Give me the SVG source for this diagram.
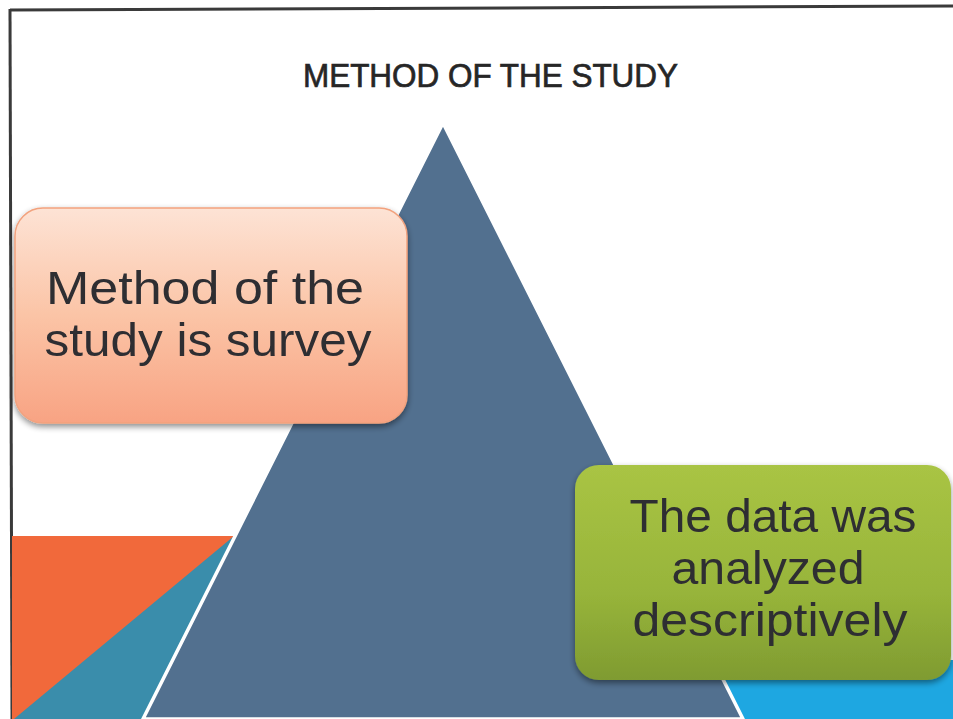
<svg xmlns="http://www.w3.org/2000/svg" width="953" height="719" viewBox="0 0 953 719">
  <defs>
    <linearGradient id="pinkGrad" x1="0" y1="0" x2="0" y2="1">
      <stop offset="0" stop-color="#fde3d5"/>
      <stop offset="0.5" stop-color="#fbc4a6"/>
      <stop offset="1" stop-color="#f8a383"/>
    </linearGradient>
    <linearGradient id="greenGrad" x1="0" y1="0" x2="0" y2="1">
      <stop offset="0" stop-color="#a9c444"/>
      <stop offset="0.6" stop-color="#97b43a"/>
      <stop offset="1" stop-color="#7f9b31"/>
    </linearGradient>
    <filter id="shadow" x="-10%" y="-10%" width="120%" height="130%">
      <feGaussianBlur in="SourceAlpha" stdDeviation="3"/>
      <feOffset dx="0" dy="3" result="b"/>
      <feComponentTransfer><feFuncA type="linear" slope="0.45"/></feComponentTransfer>
      <feMerge><feMergeNode/><feMergeNode in="SourceGraphic"/></feMerge>
    </filter>
  </defs>
  <style>
    .label { font-family: "Liberation Sans", Arial, sans-serif; fill: #2e2e33; text-anchor: middle; font-size: 46px; }
    .title { font-family: "Liberation Sans", Arial, sans-serif; fill: #262626; font-size: 33px; stroke: #262626; stroke-width: 0.7px; }
  </style>
  <rect x="0" y="0" width="953" height="719" fill="#ffffff"/>

  <!-- frame -->
  <g id="frame" stroke="#3a3a3a" stroke-width="3" fill="none">
    <line x1="10" y1="10" x2="953" y2="6"/>
    <line x1="10" y1="9" x2="12" y2="719"/>
  </g>

  <g id="title">
    <text class="title" x="303" y="87" textLength="375" lengthAdjust="spacingAndGlyphs">METHOD OF THE STUDY</text>
  </g>

  <!-- background shapes -->
  <g id="orange-block">
    <rect x="12" y="536" width="230" height="183" fill="#f1693b"/>
  </g>
  <g id="teal-face">
    <polygon points="234,536 14,719 320,719" fill="#3a8dab"/>
  </g>
  <g id="cyan-block">
    <polygon points="690,660 953,660 953,719 740,719" fill="#1ea7e1"/>
  </g>

  <g id="pyramid">
    <polygon points="443,123 143,719 743,719" fill="#52708f" stroke="#ffffff" stroke-width="3.5" stroke-linejoin="miter"/>
  </g>

  <g id="node-survey" filter="url(#shadow)">
    <rect x="15" y="208" width="392" height="215" rx="28" ry="28" fill="url(#pinkGrad)" stroke="#f2a27e" stroke-width="1.5"/>
    <text class="label" x="205" y="304" textLength="318" lengthAdjust="spacingAndGlyphs">Method of the</text>
    <text class="label" x="208" y="356" textLength="327" lengthAdjust="spacingAndGlyphs">study is survey</text>
  </g>

  <g id="node-analysis" filter="url(#shadow)">
    <rect x="575" y="465" width="376" height="215" rx="24" ry="24" fill="url(#greenGrad)"/>
    <text class="label" x="773" y="532" textLength="287" lengthAdjust="spacingAndGlyphs">The data was</text>
    <text class="label" x="768" y="584" textLength="193" lengthAdjust="spacingAndGlyphs">analyzed</text>
    <text class="label" x="770" y="636" textLength="275" lengthAdjust="spacingAndGlyphs">descriptively</text>
  </g>

  <g id="connectors"></g>
</svg>
